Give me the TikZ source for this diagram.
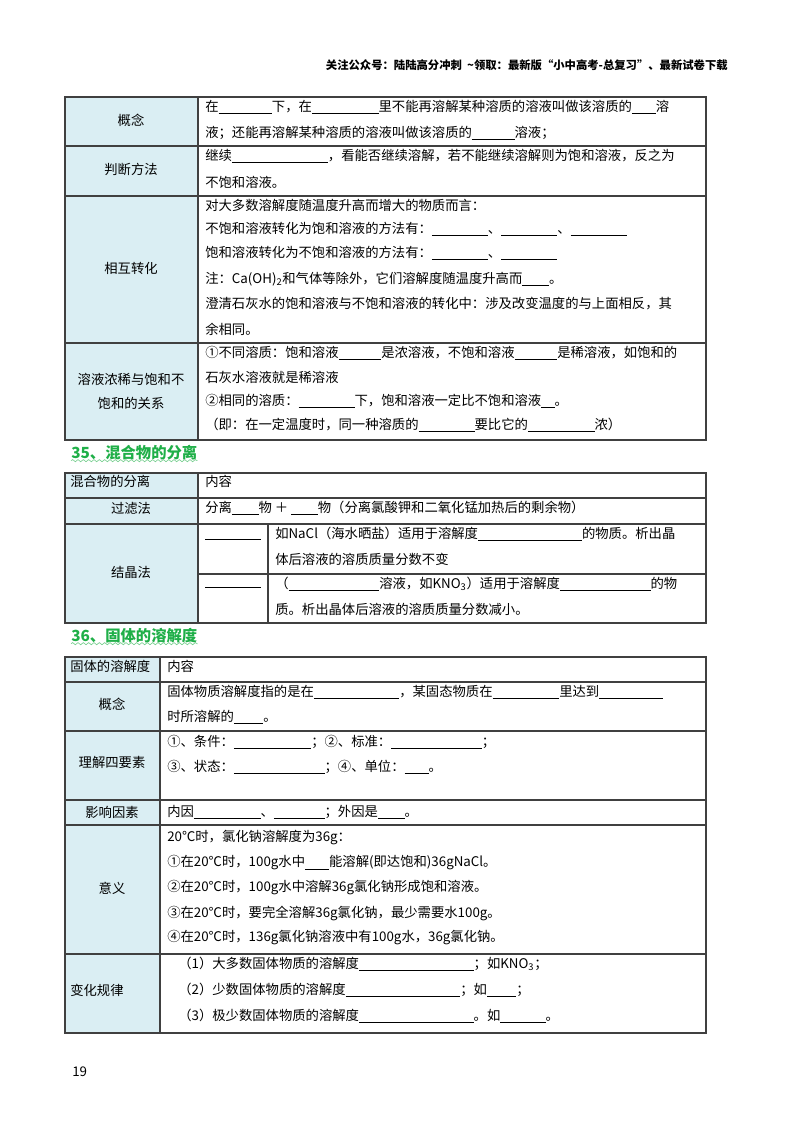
\documentclass[tikz,border=0pt]{standalone}
\usepackage{fontspec}
\setmainfont{Noto Sans CJK SC}
\usetikzlibrary{decorations.pathmorphing}
\definecolor{cellblue}{HTML}{DAEEF3}
\definecolor{hgreen}{HTML}{1FAF48}
\newcommand\bl[1]{\rule[-2pt]{#1pt}{0.6pt}}
\newcommand\sbs[1]{\textsubscript{#1}}
\begin{document}
\begin{tikzpicture}[x=0.75pt,y=-0.75pt,
  tx/.style={anchor=west,inner sep=0pt,font=\fontsize{10}{12}\selectfont},
  ct/.style={anchor=center,inner sep=0pt,font=\fontsize{10}{12}\selectfont,align=center},
  grid/.style={draw=black!75,line width=0.8pt},
  hd/.style={anchor=west,inner sep=0pt,font=\fontsize{11.5}{13}\selectfont\bfseries,text=hgreen}]
\useasboundingbox (0,0) rectangle (800,1132);
\node[anchor=east,inner sep=0pt,font=\fontsize{8.5}{10}\selectfont\bfseries] (hdr) at (728,65) {关注公众号：陆陆高分冲刺\ \ \textasciitilde 领取：最新版“小中高考-总复习”、最新试卷下载};
% ---------- table 1
\fill[cellblue] (65,97) rectangle (198,440);
\draw[grid] (65,97) rectangle (706,440);
\foreach \y in {146,196,343} \draw[grid] (65,\y) -- (706,\y);
\draw[grid] (198,97) -- (198,440);
\node[ct] (a1) at (131,120) {概念};
\node[ct] (a2) at (131,169) {判断方法};
\node[ct] (a3) at (131,268) {相互转化};
\node[ct] (a4) at (131,391) {溶液浓稀与饱和不\\[6pt]饱和的关系};
\node[tx] (b1) at (205,107) {在\bl{40}下，在\bl{50}里不能再溶解某种溶质的溶液叫做该溶质的\bl{18}溶};
\node[tx] (b2) at (205,133) {液；还能再溶解某种溶质的溶液叫做该溶质的\bl{32}溶液；};
\node[tx] (b3) at (205,156) {继续\bl{72}，看能否继续溶解，若不能继续溶解则为饱和溶液，反之为};
\node[tx] (b4) at (205,182) {不饱和溶液。};
\node[tx] (b5) at (205,205) {对大多数溶解度随温度升高而增大的物质而言：};
\node[tx] (b6) at (205,229) {不饱和溶液转化为饱和溶液的方法有：\bl{42}、\bl{42}、\bl{42}};
\node[tx] (b7) at (205,253) {饱和溶液转化为不饱和溶液的方法有：\bl{42}、\bl{42}};
\node[tx] (b8) at (205,279) {注：Ca(OH)\sbs{2}和气体等除外，它们溶解度随温度升高而\bl{20}。};
\node[tx] (b9) at (205,304) {澄清石灰水的饱和溶液与不饱和溶液的转化中：涉及改变温度的与上面相反，其};
\node[tx] (b10) at (205,329) {余相同。};
\node[tx] (b11) at (205,353) {①不同溶质：饱和溶液\bl{32}是浓溶液，不饱和溶液\bl{32}是稀溶液，如饱和的};
\node[tx] (b12) at (205,377) {石灰水溶液就是稀溶液};
\node[tx] (b13) at (205,401) {②相同的溶质：\bl{42}下，饱和溶液一定比不饱和溶液\bl{10}。};
\node[tx] (b14) at (205,425) {（即：在一定温度时，同一种溶质的\bl{42}要比它的\bl{50}浓）};
% ---------- heading 35
\node[hd] (h35) at (71,453) {35、混合物的分离};
\draw[hgreen!60,line width=0.5pt,decorate,decoration={snake,amplitude=0.8pt,segment length=4pt}] (h35.south west) -- (h35.south east);
% ---------- table 2
\fill[cellblue] (65,473) rectangle (198,623);
\draw[grid] (65,473) rectangle (706,623);
\draw[grid] (65,498) -- (706,498);
\draw[grid] (65,524) -- (706,524);
\draw[grid] (198,473) -- (198,623);
\draw[grid] (268,524) -- (268,623);
\draw[grid] (198,574) -- (706,574);
\node[tx] (c1) at (70,481) {混合物的分离};
\node[ct] (c2) at (131,508) {过滤法};
\node[ct] (c3) at (131,572) {结晶法};
\node[tx] (d1) at (205,481) {内容};
\node[tx] (d2) at (205,508) {分离\bl{20}物 ＋ \bl{20}物（分离氯酸钾和二氧化锰加热后的剩余物）};
\node[tx] (e1) at (205,538) {\bl{42}};
\node[tx] (e2) at (205,586) {\bl{42}};
\node[tx] (d3) at (275,534) {如NaCl（海水晒盐）适用于溶解度\bl{78}的物质。析出晶};
\node[tx] (d4) at (275,559) {体后溶液的溶质质量分数不变};
\node[tx] (d5) at (275,584) {（\bl{68}溶液，如KNO\sbs{3}）适用于溶解度\bl{68}的物};
\node[tx] (d6) at (275,609) {质。析出晶体后溶液的溶质质量分数减小。};
% ---------- heading 36
\node[hd] (h36) at (71,636) {36、固体的溶解度};
\draw[hgreen!60,line width=0.5pt,decorate,decoration={snake,amplitude=0.8pt,segment length=4pt}] (h36.south west) -- (h36.south east);
% ---------- table 3
\fill[cellblue] (65,657) rectangle (160,1033);
\draw[grid] (65,657) rectangle (706,1033);
\foreach \y in {682,731,800,825,954} \draw[grid] (65,\y) -- (706,\y);
\draw[grid] (160,657) -- (160,1033);
\node[tx] (f1) at (70,666) {固体的溶解度};
\node[ct] (f2) at (112,704) {概念};
\node[ct] (f3) at (112,762) {理解四要素};
\node[ct] (f4) at (112,812) {影响因素};
\node[ct] (f5) at (112,888) {意义};
\node[tx] (f6) at (70,990) {变化规律};
\node[tx] (g1) at (167,666) {内容};
\node[tx] (g2) at (167,692) {固体物质溶解度指的是在\bl{64}，某固态物质在\bl{50}里达到\bl{48}};
\node[tx] (g3) at (167,717) {时所溶解的\bl{22}。};
\node[tx] (g4) at (167,742) {①、条件：\bl{58}；②、标准：\bl{68}；};
\node[tx] (g5) at (167,767) {③、状态：\bl{68}；④、单位：\bl{18}。};
\node[tx] (g6) at (167,812) {内因\bl{50}、\bl{38}；外因是\bl{20}。};
\node[tx] (g7) at (167,838) {20℃时，氯化钠溶解度为36g：};
\node[tx] (g8) at (167,863) {①在20℃时，100g水中\bl{18}能溶解(即达饱和)36gNaCl。};
\node[tx] (g9) at (167,888) {②在20℃时，100g水中溶解36g氯化钠形成饱和溶液。};
\node[tx] (g10) at (167,913) {③在20℃时，要完全溶解36g氯化钠，最少需要水100g。};
\node[tx] (g11) at (167,938) {④在20℃时，136g氯化钠溶液中有100g水，36g氯化钠。};
\node[tx] (g12) at (178,964) {（1）大多数固体物质的溶解度\bl{86}；如KNO\sbs{3}；};
\node[tx] (g13) at (178,990) {（2）少数固体物质的溶解度\bl{86}；如\bl{22}；};
\node[tx] (g14) at (178,1016) {（3）极少数固体物质的溶解度\bl{86}。如\bl{34}。};
\node[anchor=west,inner sep=0pt,font=\fontsize{10}{12}\selectfont] (pg) at (72,1072) {19};
\end{tikzpicture}
\end{document}
